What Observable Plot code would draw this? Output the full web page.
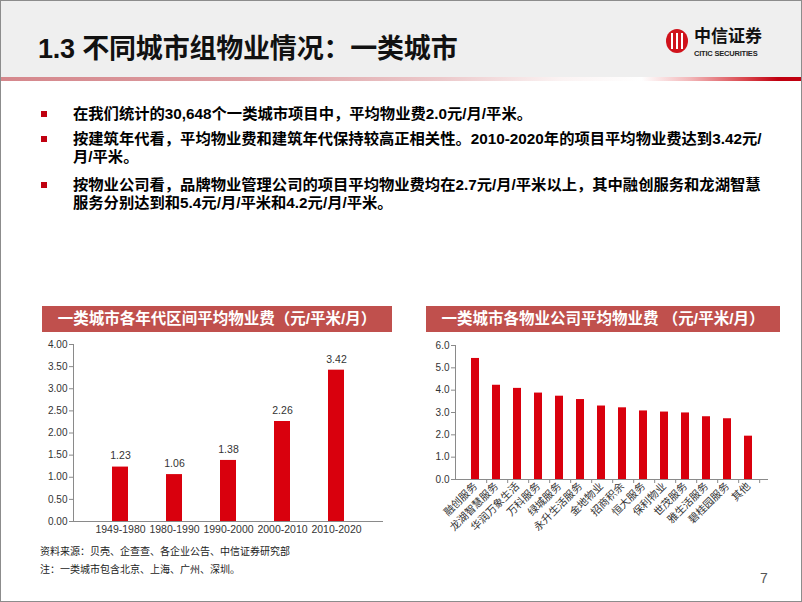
<!DOCTYPE html>
<html><head><meta charset="utf-8">
<script src="https://cdn.jsdelivr.net/npm/d3@7"></script>
<script src="https://cdn.jsdelivr.net/npm/@observablehq/plot@0.6"></script>
<style>
html,body{margin:0;padding:0;}
body{width:802px;height:602px;position:relative;overflow:hidden;background:#fff;font-family:"Liberation Sans","Noto Sans CJK SC",sans-serif;color:#000;}
#frame{position:absolute;left:0;top:0;width:800px;height:600px;border:1px solid #8c8c8c;pointer-events:none;z-index:5;}
#hdr{position:absolute;left:0;top:0;width:802px;height:77px;background:#efefef;}
#redline{position:absolute;left:0;top:77px;width:802px;height:4px;background:linear-gradient(to right,#d5878c 0%,#dc9da1 30%,#ecc9cb 55%,#fbf3f3 70%,#ffffff 80%,#f2b7b9 86%,#d9454c 93%,#c00010 97%,#c00010 100%);}
#title{position:absolute;left:38px;top:27px;font-size:27px;font-weight:bold;white-space:nowrap;color:#111;letter-spacing:-0.2px;}
#logoC{position:absolute;left:666px;top:29px;width:22px;height:24px;border-radius:50%;background:#d0121b;overflow:hidden;}
#logoC i{position:absolute;top:4px;width:2px;height:16px;background:#fff;}
#logoT{position:absolute;left:694px;top:26px;font-size:17px;line-height:18px;font-weight:bold;white-space:nowrap;color:#111;font-family:"Noto Sans CJK SC",serif;}
#logoS{position:absolute;left:694px;top:50px;font-size:7.5px;line-height:8px;font-weight:bold;white-space:nowrap;color:#222;letter-spacing:-0.2px;}
.bl{position:absolute;left:73px;font-size:15.3px;font-weight:bold;white-space:nowrap;line-height:18px;}
.sq{position:absolute;left:41px;width:6px;height:6px;background:#c00010;}
.banner{position:absolute;top:306px;height:26px;background:#c0504d;color:#fff;font-size:15.5px;font-weight:bold;text-align:center;line-height:26px;white-space:nowrap;}
.chart{position:absolute;}
.foot{position:absolute;left:40px;font-size:10px;white-space:nowrap;color:#222;}
#pg{position:absolute;left:760px;top:570px;font-size:14px;color:#555;}
</style></head>
<body>
<div id="hdr"></div>
<div id="redline"></div>
<div id="title">1.3 不同城市组物业情况：一类城市</div>
<div id="logoC"><i style="left:5px"></i><i style="left:10px"></i><i style="left:15px"></i></div>
<div id="logoT">中信证券</div>
<div id="logoS">CITIC SECURITIES</div>

<div class="sq" style="top:111px"></div>
<div class="bl" style="top:105px">在我们统计的30,648个一类城市项目中，平均物业费2.0元/月/平米。</div>
<div class="sq" style="top:136px"></div>
<div class="bl" style="top:130px">按建筑年代看，平均物业费和建筑年代保持较高正相关性。2010-2020年的项目平均物业费达到3.42元/<br>月/平米。</div>
<div class="sq" style="top:182px"></div>
<div class="bl" style="top:176px">按物业公司看，品牌物业管理公司的项目平均物业费均在2.7元/月/平米以上，其中融创服务和龙湖智慧<br>服务分别达到和5.4元/月/平米和4.2元/月/平米。</div>

<div class="banner" style="left:42px;width:350px;">一类城市各年代区间平均物业费（元/平米/月）</div>
<div class="banner" style="left:426px;width:354px;">一类城市各物业公司平均物业费 （元/平米/月）</div>

<div id="left" class="chart" style="left:30px;top:335px;"></div>
<div id="right" class="chart" style="left:410px;top:335px;"></div>

<div class="foot" style="top:543px">资料来源：贝壳、企查查、各企业公告、中信证券研究部</div>
<div class="foot" style="top:561px">注：一类城市包含北京、上海、广州、深圳。</div>
<div id="pg">7</div>
<div id="frame"></div>

<script>
// ---- data ----
const periods = ["1949-1980", "1980-1990", "1990-2000", "2000-2010", "2010-2020"];
const periodFees = [1.23, 1.06, 1.38, 2.26, 3.42];
const leftTicks = [0, 0.5, 1, 1.5, 2, 2.5, 3, 3.5, 4];

const companies = ["融创服务", "龙湖智慧服务", "华润万象生活", "万科服务", "绿城服务", "永升生活服务", "金地物业", "招商积余", "恒大服务", "保利物业", "世茂服务", "雅生活服务", "碧桂园服务", "其他"];
const companyFees = [5.42, 4.22, 4.08, 3.87, 3.73, 3.58, 3.29, 3.21, 3.07, 3.02, 2.98, 2.81, 2.72, 1.94];
const rightTicks = [0, 1, 2, 3, 4, 5, 6];

const barColor = "#d9000d";
const axisColor = "#8a8a8a";
const textColor = "#333";

const leftData = periods.map((p, i) => ({period: p, fee: periodFees[i]}));
const rightData = companies.map((c, i) => ({company: c, fee: companyFees[i]}));

const fontFam = "'Liberation Sans','Noto Sans CJK SC',sans-serif";

// ---- left chart ----
const L = {w: 365, h: 210, ml: 43, mr: 12, mt: 9, mb: 24};
const leftPlot = Plot.plot({
  width: L.w, height: L.h,
  marginLeft: L.ml, marginRight: L.mr, marginTop: L.mt, marginBottom: L.mb,
  style: {fontFamily: fontFam, color: textColor, background: "transparent"},
  x: {domain: periods, padding: 0.71, label: null},
  y: {domain: [0, 4], label: null},
  marks: [
    Plot.barY(leftData, {x: "period", y: "fee", fill: barColor}),
    Plot.text(leftData, {x: "period", y: "fee", text: d => d.fee.toFixed(2), dy: -11, fontSize: 10.5, fill: textColor}),
    Plot.axisY({ticks: leftTicks, tickFormat: d => d.toFixed(2), tickSize: 4, tickPadding: 2, fontSize: 10, stroke: axisColor, fill: textColor}),
    Plot.axisX({tickSize: 0, tickPadding: 4, fontSize: 10.5, fill: textColor}),
    Plot.frame({anchor: "left", stroke: axisColor}),
    Plot.ruleY([0], {stroke: axisColor})
  ]
});
document.getElementById("left").appendChild(leftPlot);

// ---- right chart ----
const R = {w: 370, h: 200, ml: 45, mr: 12, mt: 10, mb: 56};
const step = (R.w - R.ml - R.mr) / companies.length;
const rightPlot = Plot.plot({
  width: R.w, height: R.h,
  marginLeft: R.ml, marginRight: R.mr, marginTop: R.mt, marginBottom: R.mb,
  style: {fontFamily: fontFam, color: textColor, background: "transparent"},
  x: {domain: companies, padding: 0.6, label: null},
  y: {domain: [0, 6], label: null},
  marks: [
    Plot.barY(rightData, {x: "company", y: "fee", fill: barColor}),
    Plot.axisY({ticks: rightTicks, tickFormat: d => d.toFixed(1), tickSize: 4, tickPadding: 2, fontSize: 10, stroke: axisColor, fill: textColor}),
    Plot.axisX({tickSize: 0, tickPadding: 5, tickRotate: -45, fontSize: 10.5, fill: textColor}),
    Plot.ruleX(companies, {x: d => d, y1: 0, y2: -0.18, dx: step / 2, stroke: axisColor}),
    Plot.frame({anchor: "left", stroke: axisColor}),
    Plot.ruleY([0], {stroke: axisColor})
  ]
});
document.getElementById("right").appendChild(rightPlot);
</script>
</body></html>
